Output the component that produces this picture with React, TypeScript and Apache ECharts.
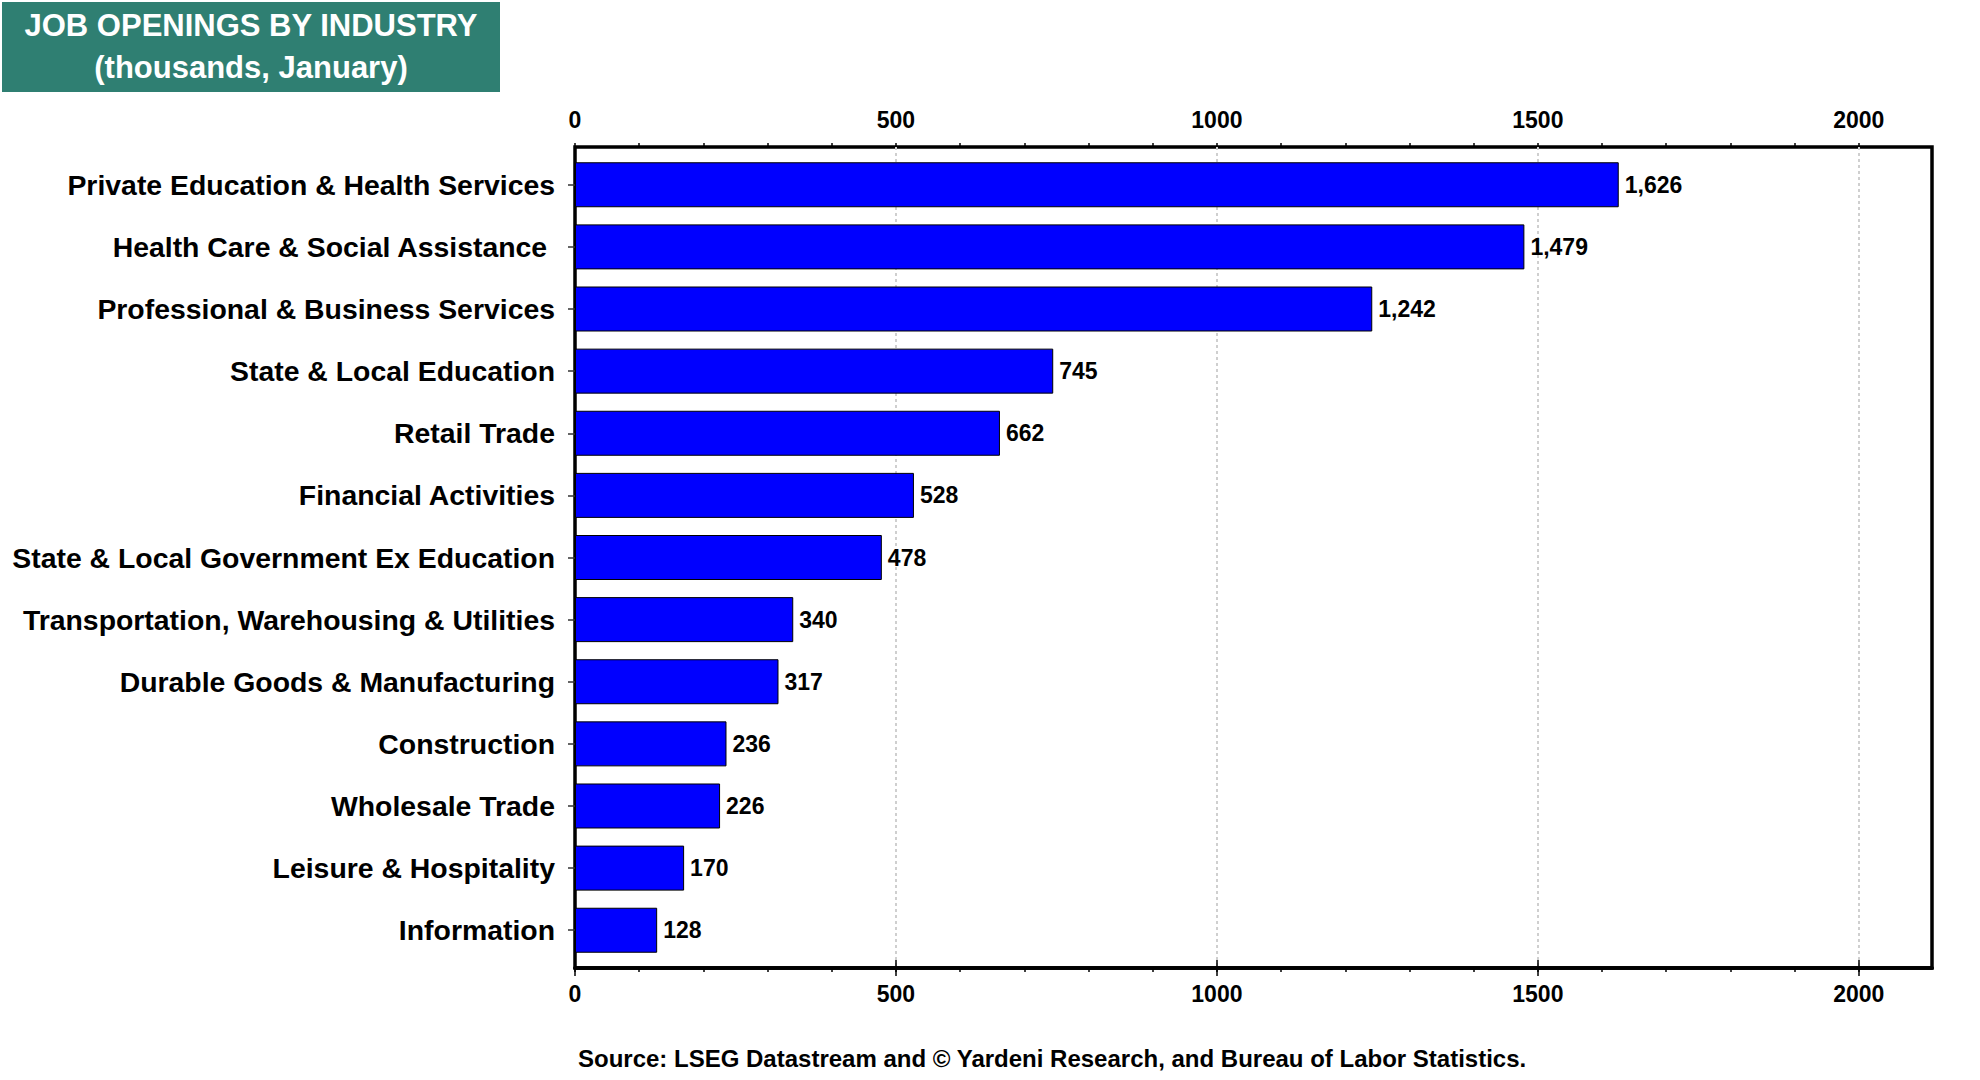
import React, { useEffect, useRef } from "react";
import * as echarts from "echarts";

const categories = [
  "Private Education & Health Services",
  "Health Care & Social Assistance ",
  "Professional & Business Services",
  "State & Local Education",
  "Retail Trade",
  "Financial Activities",
  "State & Local Government Ex Education",
  "Transportation, Warehousing & Utilities",
  "Durable Goods & Manufacturing",
  "Construction",
  "Wholesale Trade",
  "Leisure & Hospitality",
  "Information",
];
const values = [1626, 1479, 1242, 745, 662, 528, 478, 340, 317, 236, 226, 170, 128];
const majorTicks = [0, 500, 1000, 1500, 2000];
const minorTicks = [
  0, 100, 200, 300, 400, 500, 600, 700, 800, 900, 1000, 1100, 1200, 1300, 1400, 1500,
  1600, 1700, 1800, 1900, 2000,
];
const axisMin = 0;
const axisMax = 2114;
const titleLines = ["JOB OPENINGS BY INDUSTRY", "(thousands, January)"];
const sourceText =
  "Source: LSEG Datastream and \u00A9 Yardeni Research, and Bureau of Labor Statistics.";

const FONT = "'Liberation Sans', Arial, Helvetica, sans-serif";

export default function App() {
  const ref = useRef<HTMLDivElement>(null);
  useEffect(() => {
    if (!ref.current) return;
    const chart = echarts.init(ref.current, null, { renderer: "svg" });

    const majorAxis = (position: "top" | "bottom", margin: number) => ({
      type: "value",
      gridIndex: 1,
      position,
      min: axisMin,
      max: axisMax,
      axisLine: { show: true, lineStyle: { color: "#000", width: 3.5 } },
      axisTick: {
        show: true,
        inside: false,
        length: 8,
        customValues: majorTicks,
        lineStyle: { color: "#000", width: 1.5 },
      },
      axisLabel: {
        show: true,
        customValues: majorTicks,
        margin,
        fontSize: 23,
        fontWeight: "bold",
        fontFamily: FONT,
        color: "#000",
        formatter: (v: number) => String(v),
      },
      splitLine: {
        show: position === "top",
        showMinLine: false,
        lineStyle: { color: "#cfcfcf", type: [3, 3], width: 2 },
      },
    });
    const minorAxis = (position: "top" | "bottom") => ({
      type: "value",
      gridIndex: 1,
      position,
      min: axisMin,
      max: axisMax,
      axisLine: { show: false },
      axisTick: {
        show: true,
        inside: false,
        length: 4,
        customValues: minorTicks,
        lineStyle: { color: "#000", width: 1.5 },
      },
      axisLabel: { show: false },
      splitLine: { show: false },
    });

    chart.setOption({
      animation: false,
      backgroundColor: "#fff",
      grid: [
        { left: 575, right: 48, top: 153.7, bottom: 118.7, containLabel: false },
        {
          left: 575,
          right: 48,
          top: 147,
          bottom: 112,
          show: true,
          borderColor: "#000",
          borderWidth: 3.5,
          backgroundColor: "transparent",
          containLabel: false,
        },
      ],
      xAxis: [
        { type: "value", gridIndex: 0, min: axisMin, max: axisMax, show: false },
        majorAxis("top", 16),
        majorAxis("bottom", 14),
        minorAxis("top"),
        minorAxis("bottom"),
      ],
      yAxis: [
        {
          type: "category",
          gridIndex: 0,
          data: categories,
          inverse: true,
          axisLine: { show: false },
          axisTick: {
            show: true,
            alignWithLabel: true,
            length: 7,
            lineStyle: { color: "#333", width: 1.5 },
          },
          axisLabel: {
            margin: 20,
            fontSize: 28.4,
            fontWeight: "bold",
            fontFamily: FONT,
            color: "#000",
            padding: [0, 0, 5, 0],
          },
        },
        { type: "value", gridIndex: 1, show: false },
      ],
      series: [
        {
          type: "bar",
          xAxisIndex: 0,
          yAxisIndex: 0,
          data: values,
          barWidth: 45,
          itemStyle: { color: "#0000FF", borderColor: "#000", borderWidth: 1 },
          label: {
            show: true,
            position: "right",
            distance: 6,
            fontSize: 23,
            fontWeight: "bold",
            fontFamily: FONT,
            color: "#000",
            padding: [0, 0, 2, 0],
            formatter: (p: any) => Number(p.value).toLocaleString("en-US"),
          },
        },
      ],
      graphic: [
        {
          type: "rect",
          left: 2,
          top: 2,
          shape: { width: 498, height: 90 },
          style: { fill: "#2F7F72" },
        },
        {
          type: "text",
          x: 251,
          y: 25,
          style: {
            text: titleLines[0],
            fill: "#fff",
            fontSize: 31,
            fontWeight: "bold",
            fontFamily: FONT,
            align: "center",
            verticalAlign: "middle",
          },
        },
        {
          type: "text",
          x: 251,
          y: 67,
          style: {
            text: titleLines[1],
            fill: "#fff",
            fontSize: 31,
            fontWeight: "bold",
            fontFamily: FONT,
            align: "center",
            verticalAlign: "middle",
          },
        },
        {
          type: "text",
          x: 578,
          y: 1058,
          style: {
            text: sourceText,
            fill: "#000",
            fontSize: 24,
            fontWeight: "bold",
            fontFamily: FONT,
            align: "left",
            verticalAlign: "middle",
          },
        },
      ],
    });
    return () => chart.dispose();
  }, []);
  return (
    <div
      ref={ref}
      style={{ position: "fixed", left: 0, top: 0, width: 1980, height: 1080 }}
    />
  );
}
